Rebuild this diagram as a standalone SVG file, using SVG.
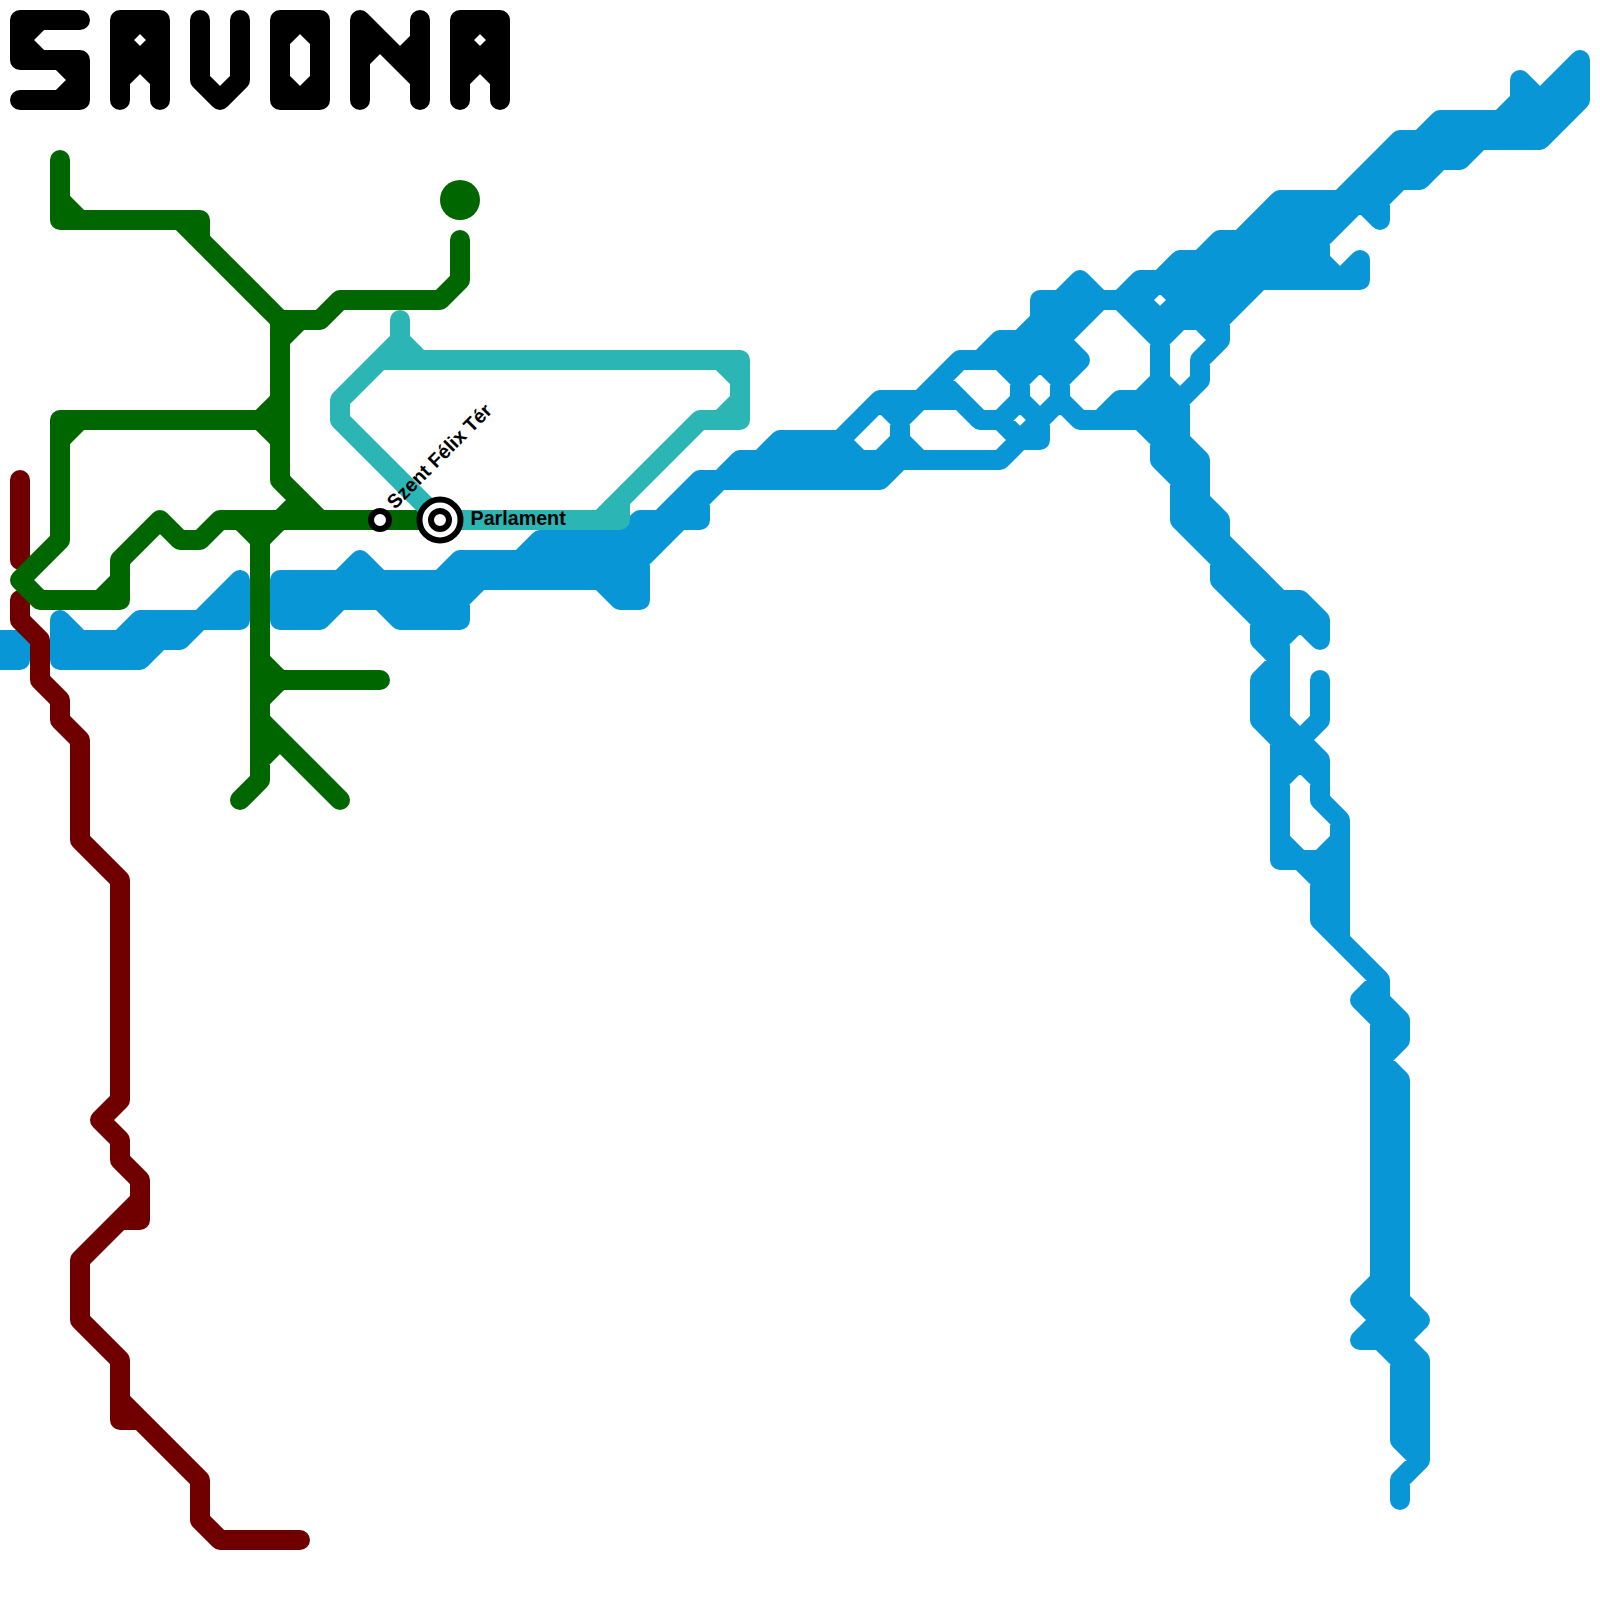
<svg xmlns="http://www.w3.org/2000/svg" width="1600" height="1600" viewBox="0 0 1600 1600">
<style>
.l{fill:none;stroke-width:20;stroke-linecap:round;stroke-linejoin:round}
.b{stroke:#0896d7}.r{stroke:#700000}.g{stroke:#006600}.t{stroke:#2bb5b5}.k{stroke:#000}
.ring{fill:#fff;stroke:#000;stroke-width:6}
.lab{font-family:"Liberation Sans",Arial,sans-serif;font-weight:bold;font-size:19.7px;fill:#000}
</style>
<rect width="1600" height="1600" fill="#fff"/>
<g id="connectors">
<path id="line-blue" class="l b" d="M1560 80H1580M1520 100H1580M1440 120H1560M1400 140H1540M1380 160H1460M1360 180H1420M1280 200H1380M1260 220H1340M1220 240H1320M1180 260H1320M1140 280H1360M1040 300H1140M1180 300H1240M1040 320H1080M1140 320H1220M1000 340H1060M960 360H1080M880 400H960M1120 400H1180M980 420H1000M1080 420H1180M780 440H840M1020 440H1040M1160 440H1180M740 460H1000M1160 460H1200M700 480H880M1180 480H1200M680 500H700M1180 500H1200M640 520H700M1180 520H1220M540 540H660M1200 540H1220M460 560H640M1220 560H1240M280 580H640M1220 580H1260M220 600H240M280 600H460M620 600H640M1240 600H1300M140 620H240M280 620H320M400 620H460M1260 620H1320M0 640H20M60 640H180M1260 640H1280M0 660H20M60 660H140M1260 680H1280M1260 700H1280M1260 720H1280M1280 740H1300M1280 760H1320M1280 860H1340M1320 880H1340M1320 900H1340M1320 920H1340M1360 1000H1380M1380 1020H1400M1380 1040H1400M1360 1300H1400M1380 1320H1420M1360 1340H1400
M0 640V660M20 640V660M60 620V660M80 640V660M100 640V660M120 640V660M140 620V660M160 620V640M180 620V640M220 600V620M240 580V620M280 580V620M300 580V620M320 580V620M340 580V600M360 560V600M380 580V600M400 580V620M420 580V620M440 580V620M460 560V620M480 560V580M500 560V580M520 560V580M540 540V580M560 540V580M580 540V580M600 540V580M620 540V600M640 520V600M660 520V540M680 500V520M700 480V520M740 460V480M760 460V480M780 440V480M800 440V480M820 440V480M840 440V480M860 460V480M880 460V480M900 400V460M940 380V400M1000 340V360M1020 340V400M1040 300V360M1040 420V440M1060 300V400M1080 280V320M1120 400V420M1140 280V320M1140 400V420M1160 320V460M1180 260V320M1180 400V520M1200 260V320M1200 360V380M1200 460V540M1220 240V340M1220 520V580M1240 240V300M1240 560V600M1260 220V280M1260 580V640M1260 680V720M1280 200V280M1280 600V860M1300 200V260M1300 600V620M1300 740V760M1320 200V260M1320 620V640M1320 680V720M1320 760V800M1320 860V920M1340 200V220M1340 820V940M1360 180V200M1360 260V280M1380 160V220M1380 980V1340M1400 140V180M1400 1020V1040M1400 1080V1440M1400 1480V1500M1420 140V180M1420 1360V1460M1440 120V160M1460 120V160M1480 120V140M1500 120V140M1520 80V140M1540 100V140M1560 80V120M1580 60V100
M60 620L80 640M120 640L140 620M200 620L240 580M140 660L160 640M180 640L200 620M340 580L360 560L380 580M320 620L340 600M380 600L400 620M440 580L460 560M460 600L480 580M520 560L540 540M600 580L620 600M620 540L640 520M660 520L700 480M680 520L640 560M700 500L720 480L740 460M760 460L780 440M860 460L840 440L880 400L900 420M900 440L880 460M880 480L900 460M900 420L960 360M900 440L920 460M940 380L980 420M1000 420L1020 440L1000 460M980 360L1000 340M1020 340L1040 320M1000 360L1020 380L1040 360L1060 380L1080 360L1060 340L1100 300L1080 280L1060 300M1020 400L1000 420M1020 400L1040 420L1060 400L1080 420M1040 420L1020 440M1100 420L1120 400M1140 400L1160 380L1180 400L1200 380M1160 340L1120 300L1140 280M1160 280L1180 260M1200 260L1220 240M1240 240L1280 200M1340 200L1400 140M1420 140L1440 120M1500 120L1520 100L1520 80L1540 100L1580 60M1580 100L1540 140M1480 140L1460 160M1440 160L1420 180M1400 180L1380 200M1380 220L1360 200L1320 240M1320 260L1340 280L1360 260M1260 280L1220 320V340L1200 360M1200 320L1220 340M1160 340L1180 320M1140 300L1160 280L1180 300L1160 320Z
M1140 420L1160 440M1180 440L1200 460M1160 460L1180 480M1200 500L1220 520M1180 520L1220 560M1220 540L1280 600M1300 600L1320 620M1220 580L1260 620M1320 640L1300 620L1280 640M1260 640L1280 660L1260 680M1260 720L1280 740M1280 720L1300 740L1320 720M1300 740L1320 760M1280 780L1300 760L1320 780M1320 800L1340 820M1280 840L1300 860L1320 880M1340 840L1320 860M1320 920L1380 980L1360 1000L1380 1020M1380 1000L1400 1020M1400 1040L1380 1060L1400 1080M1380 1280L1360 1300L1380 1320L1360 1340M1380 1340L1400 1360M1400 1300L1420 1320L1400 1340L1420 1360M1400 1440L1420 1460L1400 1480"/>
<path id="line-red" class="l r" d="M20 480V560M20 600V620L40 640V680L60 700V720L80 740V840L120 880V1100L100 1120L120 1140V1160L140 1180V1220H120M140 1200L80 1260V1320L120 1360V1420H140M120 1400L200 1480V1520L220 1540H300"/>
<path id="line-green" class="l g" d="M60 160V220H200V240M80 220L60 200M180 220L280 320H320L340 300H440L460 280V240M280 320V480L320 520M280 340L300 320M60 420H280M280 400L260 420L280 440M80 420L60 440M60 420V540L20 580L40 600H120V560L160 520L180 540H200L220 520H440M100 600L120 580M300 500V520M300 500L280 520M240 520L260 540L280 520M260 520V780L240 800M260 660L280 680L260 700M260 680H380M260 720L340 800M260 760L280 740L260 740"/>
<circle id="line-green-point" cx="460" cy="200" r="20" fill="#006600"/>
<path id="line-teal" class="l t" d="M400 320V360M400 340L420 360M380 360H740V420H700L600 520M720 360L740 380M740 400L720 420M400 340L340 400V420L440 520H620V500"/>
<g id="line-title" class="l k" role="img" aria-label="SAVONA">
<path d="M80 20H20V60H80V100H20M40 20L20 40L40 60M60 60L80 80L60 100"/>
<path d="M120 100V20H160V100M120 60H160M140 20L120 40L140 60L160 40ZM140 60L120 80M140 60L160 80"/>
<path d="M200 20V80L220 100L240 80V20"/>
<path d="M280 20H320V100H280ZM300 20L280 40M300 20L320 40M280 80L300 100L320 80"/>
<path d="M360 100V20L420 80M420 20V100M380 40L360 60M400 60L420 40M360 40H380M400 60H420"/>
<path d="M460 100V20H500V100M460 60H500M480 20L460 40L480 60L500 40ZM480 60L460 80M480 60L500 80"/>
</g>
</g>
<g id="station-szent-felix-ter">
<circle class="ring" cx="380" cy="520" r="9"/>
<text class="lab" transform="translate(395 510) rotate(-45)">Szent Félix Tér</text>
</g>
<g id="station-parlament">
<circle class="ring" cx="440" cy="520" r="20.5"/>
<circle class="ring" cx="440" cy="520" r="9"/>
<text class="lab" x="470.5" y="524.5">Parlament</text>
</g>
</svg>
